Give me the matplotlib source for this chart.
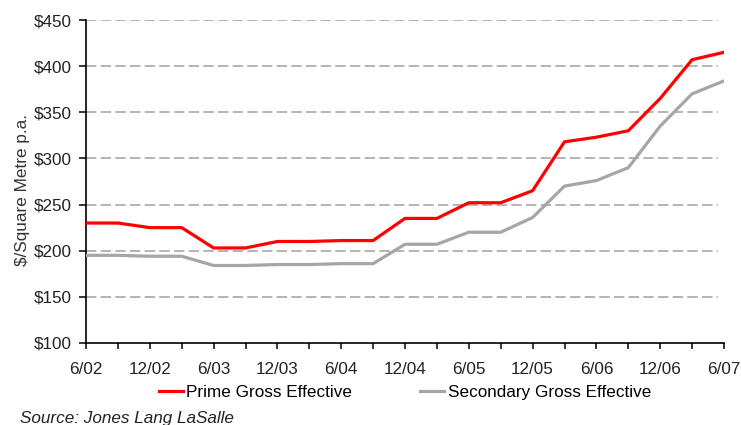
import matplotlib
matplotlib.use("Agg")
import matplotlib.pyplot as plt
import numpy as np

plt.rcParams["font.family"] = ["Liberation Sans", "DejaVu Sans"]

# Quarterly observations, June 2002 to June 2007
quarters = ["6/02", "9/02", "12/02", "3/03", "6/03", "9/03", "12/03", "3/04",
            "6/04", "9/04", "12/04", "3/05", "6/05", "9/05", "12/05", "3/06",
            "6/06", "9/06", "12/06", "3/07", "6/07"]
prime = [230, 230, 225, 225, 203, 203, 210, 210, 211, 211, 235,
         235, 252, 252, 265, 318, 323, 330, 365, 407, 415]
secondary = [195, 195, 194, 194, 184, 184, 185, 185, 186, 186, 207,
             207, 220, 220, 236, 270, 276, 290, 335, 370, 384]
y_ticks = [100, 150, 200, 250, 300, 350, 400, 450]

fs = 12.3
fig = plt.figure(figsize=(7.41, 4.25), dpi=100)
ax = fig.add_axes([86 / 741, 1 - 343 / 425, (724 - 86) / 741, (343 - 20) / 425])

x = np.arange(len(quarters))
ax.plot(x, prime, color="#ff0000", lw=2.3, solid_joinstyle="round",
        label="Prime Gross Effective", zorder=3)
ax.plot(x, secondary, color="#a6a6a6", lw=2.3, solid_joinstyle="round",
        label="Secondary Gross Effective", zorder=3)

ax.set_xlim(0, len(quarters) - 1)
ax.set_ylim(100, 450)
ax.set_yticks(y_ticks)
ax.set_yticklabels([f"${v}" for v in y_ticks], fontsize=fs, color="#222222")
ax.set_xticks(x)
ax.set_xticklabels([q if i % 2 == 0 else "" for i, q in enumerate(quarters)],
                   fontsize=fs, color="#222222")

for v in y_ticks[1:]:
    ax.plot([0, 19.8], [v, v], color="#a0a0a0", lw=1.1,
            dashes=(6.8, 2.8), zorder=1)

for side in ("top", "right"):
    ax.spines[side].set_visible(False)
for side in ("left", "bottom"):
    ax.spines[side].set_linewidth(1.2)
    ax.spines[side].set_color("black")
ax.tick_params(axis="y", direction="out", length=5, width=1.1, pad=5)
ax.tick_params(axis="x", direction="out", length=4, width=1.1, pad=10)

ax.set_ylabel("$/Square Metre p.a.", fontsize=fs, color="#333333", labelpad=3,
              y=0.475, ha="center")

ax.legend(loc="center", bbox_to_anchor=(0.5, -0.154), ncol=2, frameon=False,
          fontsize=fs, handlelength=1.4, handletextpad=0.2, columnspacing=4.0,
          borderpad=0, borderaxespad=0)

fig.text(20 / 741, 1 - 419 / 425, "Source: Jones Lang LaSalle", fontsize=fs,
         style="italic", color="#222222", va="center", ha="left")

fig.savefig("out.png", dpi=100)
